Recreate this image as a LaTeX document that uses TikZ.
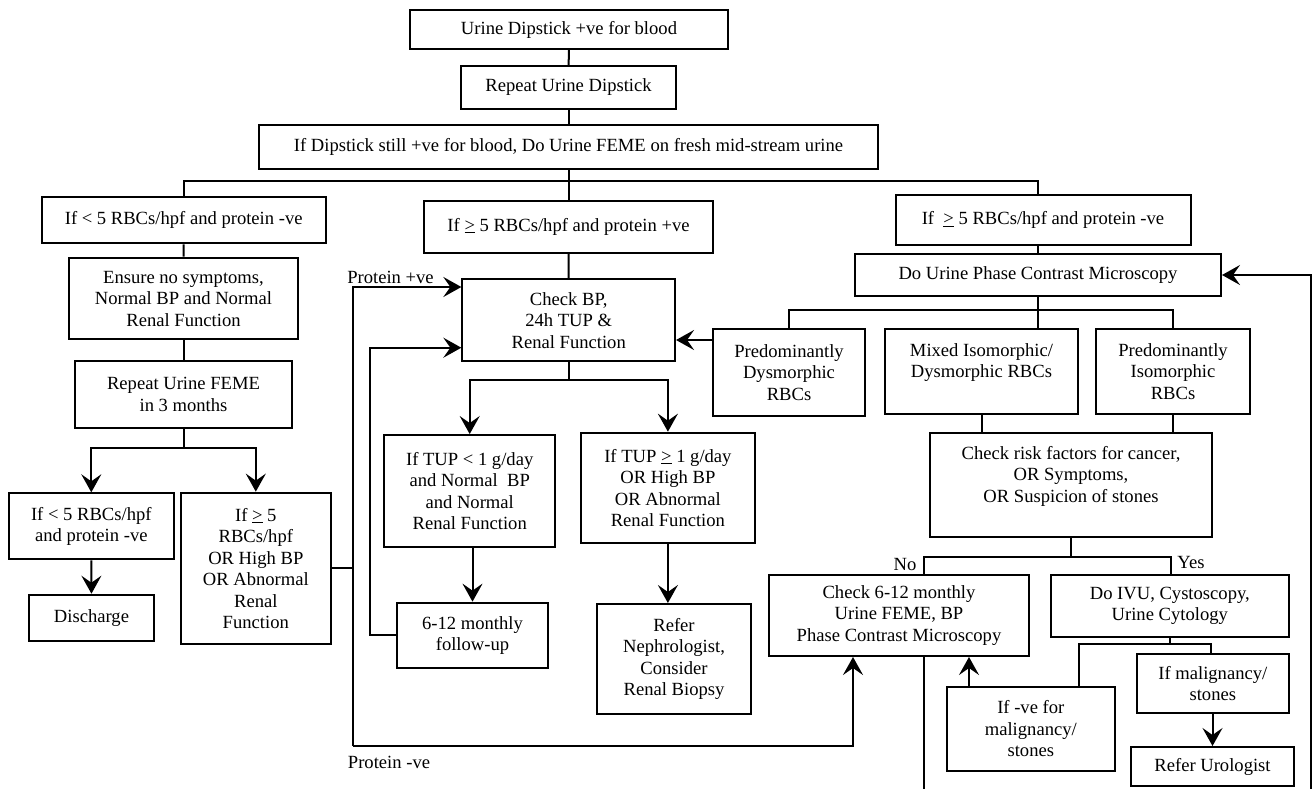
\documentclass[tikz,border=0pt]{standalone}
\usepackage{fontspec}
\setmainfont{Liberation Serif}
\usetikzlibrary{arrows.meta}

\begin{document}
\begin{tikzpicture}[x=1pt,y=-1pt,line width=2pt,
  box/.style={draw,align=center,inner sep=0pt,font=\fontsize{18.6pt}{21.5pt}\selectfont},
  wh/.style 2 args={minimum width=#1pt,minimum height=#2pt},
  arr/.style={-{Stealth[length=18pt,width=20pt,inset=7pt]}},
  lbl/.style={inner sep=0pt,font=\fontsize{18.6pt}{21.5pt}\selectfont}]
\useasboundingbox (0,0) rectangle (1316,789);

% Top of the chart
\node[box,wh={318}{39}] (dip) at (569,29.5) {Urine Dipstick +ve for blood};
\node[box,wh={215}{43}] (rep) at (568.5,87.5) {Repeat Urine Dipstick};
\node[box,wh={619}{44}] (feme) at (568.5,147) {If Dipstick still +ve for blood, Do Urine FEME on fresh mid-stream urine};

% Left column
\node[box,wh={284}{46.6}] (lowneg) at (183.7,220) {If < 5 RBCs/hpf and protein -ve};
\node[box,wh={228.4}{81.6}] (ensure) at (183.5,298.5) {Ensure no symptoms,\\ Normal BP and Normal\\ Renal Function};
\node[box,wh={217}{67}] (repfeme) at (183.5,394.5) {Repeat Urine FEME\\ in 3 months};
\node[box,wh={164.7}{66}] (lowneg2) at (91.3,526.3) {If < 5 RBCs/hpf\\ and protein -ve};
\node[box,wh={125}{46}] (disch) at (91.5,617.7) {Discharge};
\node[box,wh={150.3}{151.3}] (highpos) at (255.8,568.3) {If \underline{>} 5\\ RBCs/hpf\\ OR High BP\\ OR Abnormal\\ Renal\\ Function};

% Middle column
\node[box,wh={288.7}{52}] (pospro) at (568.5,226.7) {If \underline{>} 5 RBCs/hpf and protein +ve};
\node[box,wh={212.7}{81.7}] (chkbp) at (568.7,320.2) {Check BP,\\ 24h TUP \&\\ Renal Function};
\node[box,wh={170.7}{112.3}] (tuplow) at (469.7,491.2) {If TUP < 1 g/day\\ and Normal~ BP\\ and Normal\\ Renal Function};
\node[box,wh={174.3}{110.6}] (tuphigh) at (667.9,488) {If TUP \underline{>} 1 g/day\\ OR High BP\\ OR Abnormal\\ Renal Function};
\node[box,wh={150.4}{65.3}] (follow) at (472.5,635.3) {6-12 monthly\\ follow-up};
\node[box,wh={154}{110}] (nephro) at (674,659) {Refer\\ Nephrologist,\\ Consider\\ Renal Biopsy};

% Right column
\node[box,wh={295}{50}] (posneg) at (1043,220) {If~ \underline{>} 5 RBCs/hpf and protein -ve};
\node[box,wh={366}{42}] (pcm) at (1038,275) {Do Urine Phase Contrast Microscopy};
\node[box,wh={152}{87}] (dysm) at (789,372.5) {Predominantly\\ Dysmorphic\\ RBCs};
\node[box,wh={193}{85}] (mixed) at (981.5,371.5) {Mixed Isomorphic/\\ Dysmorphic RBCs\\ ~};
\node[box,wh={154}{85}] (isom) at (1173,371.5) {Predominantly\\ Isomorphic\\ RBCs};
\node[box,wh={282}{104}] (risk) at (1071,485) {Check risk factors for cancer,\\ OR Symptoms,\\ OR Suspicion of stones\\ ~};
\node[box,wh={260}{81}] (chk612) at (899,615.5) {Check 6-12 monthly\\ Urine FEME, BP\\ Phase Contrast Microscopy};
\node[box,wh={237.5}{62}] (ivu) at (1169.8,606) {Do IVU, Cystoscopy,\\ Urine Cytology};
\node[box,wh={168.5}{84}] (negmal) at (1030.8,729) {If -ve for\\ malignancy/\\ stones};
\node[box,wh={151.5}{59}] (mal) at (1212.8,683.5) {If malignancy/\\ stones};
\node[box,wh={163.5}{39}] (uro) at (1212.5,766.5) {Refer Urologist};

% Trunk
\draw (dip) -- (rep);
\draw (rep) -- (feme);
\coordinate (b1) at (568.5,181);
\draw (feme.south) -- (b1);
\draw (lowneg.north) |- (b1) -| (pcm.north |- posneg.north);
\draw (b1) -- (pospro.north);

% Left branch
\draw (lowneg) -- (ensure);
\draw (ensure) -- (repfeme);
\coordinate (b2) at (183.5,447.7);
\draw (repfeme.south) -- (b2);
\draw[arr] (b2) -| (lowneg2.north);
\draw[arr] (b2) -| (highpos.north);
\draw[arr] (lowneg2) -- (disch);

% Middle branch
\draw (pospro) -- (chkbp);
\coordinate (b3) at (568.7,380.3);
\draw (chkbp.south) -- (b3);
\draw[arr] (b3) -| (tuplow.north);
\draw[arr] (b3) -| (tuphigh.north);
\draw[arr] (tuplow.south -| follow.north) -- (follow.north);
\draw[arr] (tuphigh.south) -- (tuphigh.south |- nephro.north);
\coordinate (fb) at (370,347.7);
\draw[arr] (follow.west) -| (fb) -- (fb -| chkbp.west);

% Protein loop
\coordinate (ppos) at (353,287);
\coordinate (pneg) at (353,746);
\coordinate (pnegend) at (853,746);
\draw (highpos.east) -- (highpos.east -| ppos);
\draw[arr] (pneg) -- (ppos) -- (ppos -| chkbp.west);
\draw[arr] (pneg) -- (pnegend) -- (pnegend |- chk612.south);
\node[lbl] (lpos) at (390.5,277) {Protein +ve};
\node[lbl] (lneg) at (389,762) {Protein -ve};

% Right branch
\draw (pcm.north |- posneg.south) -- (pcm.north);
\coordinate (b4) at (1038,310);
\draw (pcm.south) -- (pcm.south |- mixed.north);
\draw (dysm.north) |- (b4) -| (isom.north);
\coordinate (dysmin) at ([yshift=32.5pt]dysm.west);
\draw[arr] (dysmin) -- (dysmin -| chkbp.east);
\draw (mixed.south) -- (mixed.south |- risk.north);
\draw (isom.south) -- (isom.south |- risk.north);
\coordinate (no) at (924,557);
\coordinate (yes) at (1171,557);
\draw (risk.south) -- (risk.south |- no);
\draw (no |- chk612.north) -- (no) -- (yes) -- (yes |- ivu.north);
\node[lbl] (lno) at (905,564) {No};
\node[lbl] (lyes) at (1191,562) {Yes};
\coordinate (b5l) at (1079,644);
\coordinate (b5r) at (1211,644);
\draw (ivu.south) -- (ivu.south |- b5l);
\draw (b5l |- negmal.north) -- (b5l) -- (b5r) -- (b5r |- mal.north);
\coordinate (negup) at ([xshift=-61.8pt]negmal.north);
\draw[arr] (negup) -- (negup |- chk612.south);
\draw[arr] (mal.south -| uro.north) -- (uro.north);

% Lines leaving the page
\coordinate (chkdown) at (924,789);
\coordinate (loopbot) at (1311,789);
\draw (chk612.south -| chkdown) -- (chkdown);
\draw[arr] (loopbot) |- (pcm.east);
\end{tikzpicture}
\end{document}
